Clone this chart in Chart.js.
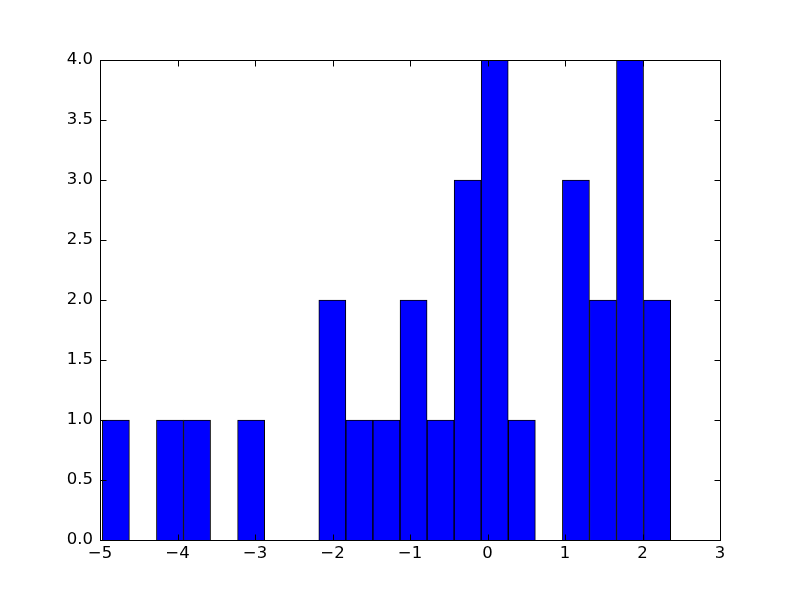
<!DOCTYPE html>
<html>
<head>
<meta charset="utf-8">
<script src="https://cdn.jsdelivr.net/npm/chart.js@4/dist/chart.umd.min.js"></script>
<style>
  body { margin: 0; background: #fff; }
</style>
</head>
<body>
<canvas id="hist" width="800" height="600"></canvas>
<script>
// bin centres (bin width ~0.349) and counts
const binCenters = [-4.795, -4.446, -4.097, -3.748, -3.399, -3.050, -2.700, -2.351, -2.002, -1.653,
                    -1.304, -0.954, -0.605, -0.256, 0.093, 0.443, 0.792, 1.141, 1.490, 1.839, 2.189];
const counts = [1, 0, 1, 1, 0, 1, 0, 0, 2, 1, 1, 2, 1, 3, 4, 1, 0, 3, 2, 4, 2];
const xTicks = [-5, -4, -3, -2, -1, 0, 1, 2, 3];
const yTicks = [0, 0.5, 1, 1.5, 2, 2.5, 3, 3.5, 4];

const FONT = { family: 'DejaVu Sans', size: 16.5 };

// frame + inward ticks on all four sides (matplotlib classic look)
const frameTicks = {
    id: 'frameTicks',
    afterDraw(chart) {
        const { ctx, chartArea: a, scales } = chart;
        const L = Math.round(a.left) + 0.5, R = Math.round(a.right) + 0.5;
        const T = Math.round(a.top) + 0.5, B = Math.round(a.bottom) + 0.5;
        const len = 6;
        ctx.save();
        ctx.strokeStyle = '#000';
        ctx.lineWidth = 1;
        ctx.beginPath();
        xTicks.forEach(v => {
            const x = Math.round(scales.x.getPixelForValue(v)) + 0.5;
            ctx.moveTo(x, B); ctx.lineTo(x, B - len);
            ctx.moveTo(x, T); ctx.lineTo(x, T + len);
        });
        yTicks.forEach(v => {
            const y = Math.round(scales.y.getPixelForValue(v)) + 0.5;
            ctx.moveTo(L, y); ctx.lineTo(L + len, y);
            ctx.moveTo(R, y); ctx.lineTo(R - len, y);
        });
        ctx.stroke();
        ctx.strokeRect(L, T, R - L, B - T);
        ctx.restore();
    }
};

new Chart(document.getElementById('hist').getContext('2d'), {
    type: 'bar',
    data: {
        datasets: [{
            data: binCenters.map((c, i) => ({ x: c, y: counts[i] })),
            backgroundColor: '#0000ff',
            borderColor: '#000000',
            borderWidth: 1,
            borderSkipped: 'start',
            barPercentage: 1,
            categoryPercentage: 1
        }]
    },
    options: {
        responsive: false,
        animation: false,
        layout: { padding: { top: 60, right: 80, left: 0, bottom: 0 } },
        plugins: { legend: { display: false }, tooltip: { enabled: false } },
        scales: {
            x: {
                type: 'linear',
                offset: false,
                min: -5, max: 3,
                grid: { display: false, drawTicks: false },
                border: { display: false },
                afterBuildTicks: s => { s.ticks = xTicks.map(v => ({ value: v })); },
                afterFit: s => { s.height = 60; },
                ticks: {
                    color: '#000', font: FONT, padding: 4, maxRotation: 0,
                    callback: v => String(v).replace('-', '\u2212')
                }
            },
            y: {
                min: 0, max: 4,
                grid: { display: false, drawTicks: false },
                border: { display: false },
                afterBuildTicks: s => { s.ticks = yTicks.map(v => ({ value: v })); },
                afterFit: s => { s.width = 100; },
                ticks: {
                    color: '#000', font: FONT, padding: 7,
                    callback: v => v.toFixed(1)
                }
            }
        }
    },
    plugins: [frameTicks]
});
</script>
</body>
</html>
